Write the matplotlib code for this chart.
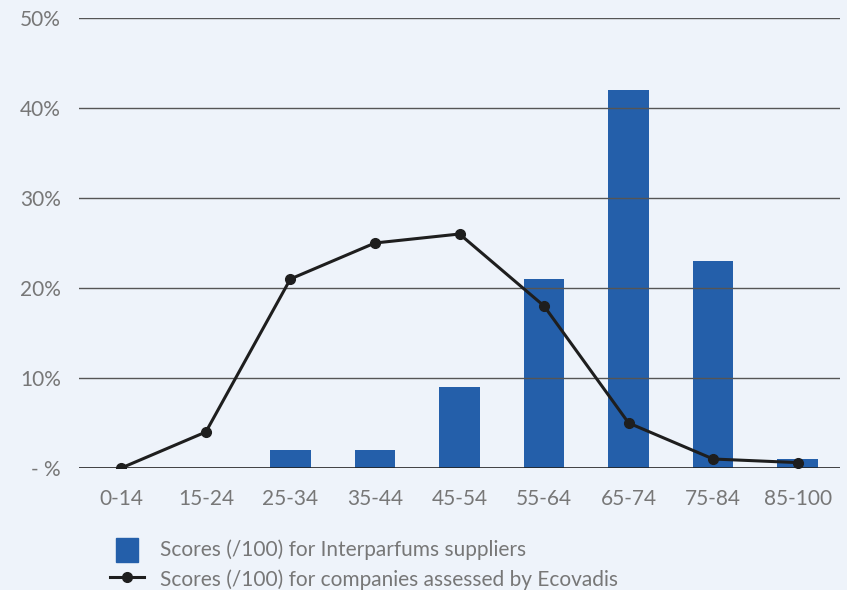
import numpy as np
from matplotlib import pyplot as plt
from matplotlib.lines import Line2D
from matplotlib.patches import Patch, Rectangle
from matplotlib.legend_handler import HandlerPatch

categories = ["0-14", "15-24", "25-34", "35-44", "45-54", "55-64", "65-74", "75-84", "85-100"]
suppliers = [0, 0, 2, 2, 9, 21, 42, 23, 1]
ecovadis = [0, 4, 21, 25, 26, 18, 5, 1, 0.6]
yticks = [0, 10, 20, 30, 40, 50]
ylabels = ["- %", "10%", "20%", "30%", "40%", "50%"]

bg = "#eef3fa"
blue = "#245faa"
txt = "#777777"

plt.rcParams['font.family'] = ['Lato', 'DejaVu Sans']

fig = plt.figure(figsize=(8.47, 5.9), dpi=100, facecolor=bg)
ax = fig.add_axes([79/847, 122/590, 761/847, 450/590])
ax.set_facecolor(bg)

x = np.arange(len(categories))
ax.bar(x, suppliers, width=0.48, color=blue, zorder=2)
ax.plot(x, ecovadis, color="#1e1e1e", lw=2.2, marker="o", ms=7, zorder=4)

for y in yticks[1:]:
    ax.axhline(y, color="#555555", lw=1, zorder=3)
ax.axhline(0, color="#222222", lw=1.2, zorder=3)

ax.set_xlim(-0.5, len(categories) - 0.5)
ax.set_ylim(0, 50)
ax.set_xticks(x)
ax.set_xticklabels(categories)
ax.set_yticks(yticks)
ax.set_yticklabels(ylabels)
for s in ax.spines.values():
    s.set_visible(False)
ax.tick_params(length=0, labelsize=15, labelcolor=txt, pad=15)
ax.tick_params(axis="y", pad=13)


# small square patch for the bar series, narrower than the line handle
def small_box(legend, orig_handle, xdescent, ydescent, width, height, fontsize):
    w = width * 0.66
    return Rectangle((-xdescent + (width - w) / 2, -ydescent - 3), w, height + 4)


handles = [Patch(color=blue),
           Line2D([0], [0], color="#1e1e1e", lw=2.2, marker="o", ms=7)]
labels = ["Scores (/100) for Interparfums suppliers",
          "Scores (/100) for companies assessed by Ecovadis"]
leg = fig.legend(handles, labels, loc="lower left", bbox_to_anchor=(100/847, -10/590),
                 frameon=False, labelcolor=txt, handlelength=1.6,
                 handleheight=1.0, labelspacing=0.45, handletextpad=0.8,
                 borderpad=0, prop={"size": 15},
                 handler_map={Patch: HandlerPatch(patch_func=small_box)})
fig.savefig("out.png", dpi=100, facecolor=bg)
